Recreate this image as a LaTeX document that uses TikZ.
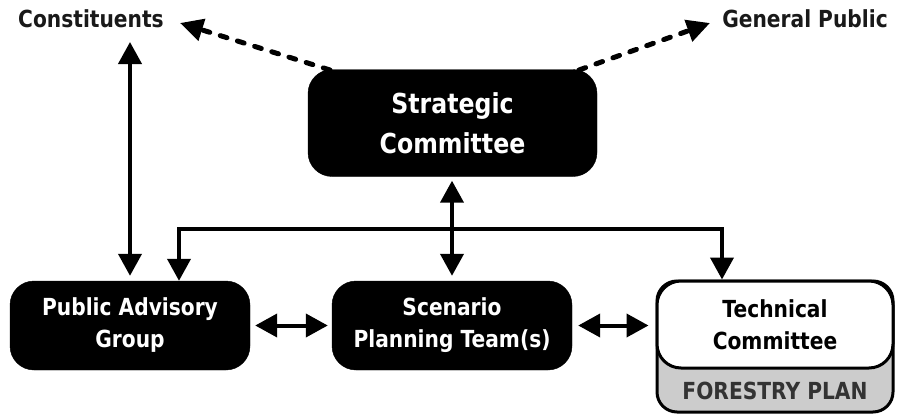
\documentclass[tikz,border=0pt]{standalone}
\usepackage{fontspec}
\setmainfont{DejaVu Sans}[FakeStretch=0.86]
\usetikzlibrary{arrows.meta}

\begin{document}
\begin{tikzpicture}[x=1pt,y=-1pt,
        box/.style={draw=black,fill=black,text=white,rounded corners=24pt,align=center,
                font=\bfseries\fontsize{23.5}{32}\selectfont},
        lbl/.style={font=\bfseries\fontsize{23.5}{28}\selectfont,text=black!90,inner sep=0pt},
        link/.style={line width=4pt,{Triangle[length=22pt,width=23pt]}-{Triangle[length=22pt,width=23pt]}},
        dots/.style={line width=5pt,line cap=round,dash pattern=on 7pt off 11pt,-{Triangle[length=23pt,width=22pt]}}]
        \useasboundingbox (0,0) rectangle (908,415);
        \node[box,minimum width=289pt,minimum height=107pt,font=\bfseries\fontsize{27.5}{40}\selectfont] (strat) at (452.5,123) {Strategic\\Committee};
        \node[box,minimum width=240pt,minimum height=89pt] (pag) at (130,325.5) {Public Advisory\\Group};
        \node[box,minimum width=240pt,minimum height=89pt] (spt) at (452,325.5) {Scenario\\Planning Team(s)};
        \node[draw,line width=3pt,fill=black!20,rounded corners=20pt,minimum width=236pt,minimum height=131pt] (plan) at (775,346.5) {};
        \node[box,fill=white,text=black,line width=3pt,minimum width=236pt,minimum height=87pt] (tc) at (775,324.5) {Technical\\Committee};
        \node[lbl,text=black!80] (fp) at (775,391) {FORESTRY PLAN};
        \node[lbl] (const) at (91,19) {Constituents};
        \node[lbl] (pub) at (805,19) {General Public};
        \coordinate (busL) at (179,229);
        \coordinate (busR) at (722,229);
        \draw[link] (pag.north -| busL) -- (busL) -- (busR) -- (tc.north -| busR);
        \draw[link,shorten <=4pt,shorten >=5pt] (strat.south -| spt.north) -- (spt.north);
        \draw[link,shorten <=5pt,shorten >=5pt] (pag.north |- 0,37) -- (pag.north);
        \draw[link,shorten <=5pt,shorten >=4pt] (pag.east) -- (spt.west);
        \draw[link,shorten <=6pt,shorten >=7pt] (spt.east) -- (tc.west |- spt.east);
        \draw[dots] (330,70) -- (180,23);
        \draw[dots] (579,70) -- (710,23);
\end{tikzpicture}
\end{document}
